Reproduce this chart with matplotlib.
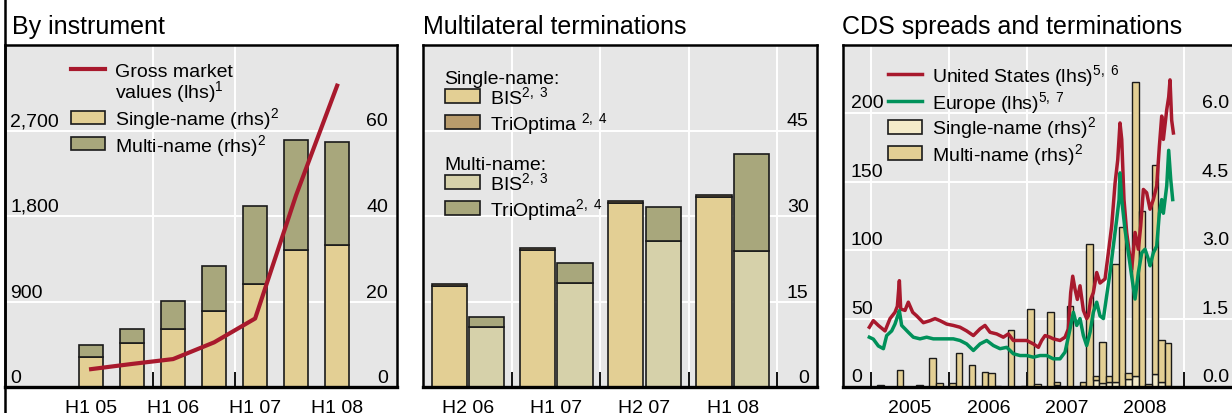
import numpy as np
import matplotlib
matplotlib.use("Agg")
import matplotlib.pyplot as plt
from matplotlib.patches import Rectangle
from matplotlib.lines import Line2D

plt.rcParams['font.family'] = ['Liberation Sans', 'DejaVu Sans']
plt.rcParams['mathtext.fontset'] = 'custom'
plt.rcParams['mathtext.rm'] = 'Liberation Sans'
plt.rcParams['mathtext.it'] = 'Liberation Sans:italic'
plt.rcParams['mathtext.bf'] = 'Liberation Sans:bold'

# ------------------------------- DATA ---------------------------------------
# Panel 1: by instrument (USD bn notional in rhs, gross market value lhs)
inst_periods = ['H1 05', 'H2 05', 'H1 06', 'H2 06', 'H1 07', 'H2 07', 'H1 08']
inst_single = [7.0, 10.2, 13.6, 17.7, 24.0, 32.1, 33.1]
inst_multi = [2.9, 3.4, 6.6, 10.7, 18.3, 25.7, 24.1]
gross_market = [188, 243, 294, 470, 721, 2020, 3172]

# Panel 2: multilateral terminations
term_periods = ['H2 06', 'H1 07', 'H2 07', 'H1 08']
single_bis = [17.8, 24.1, 32.2, 33.3]
single_trioptima = [0.2, 0.25, 0.4, 0.45]
multi_bis = [10.6, 18.2, 25.6, 23.9]
multi_trioptima = [1.7, 3.5, 6.0, 17.0]

# Panel 3: CDS spreads (lhs, bp) and monthly terminations (rhs)
us_years = [2004.983, 2005.034, 2005.098, 2005.183, 2005.247, 2005.310, 2005.340,
            2005.366, 2005.383, 2005.438, 2005.480, 2005.536, 2005.587, 2005.672,
            2005.757, 2005.821, 2005.884, 2005.969, 2006.054, 2006.139, 2006.224,
            2006.310, 2006.395, 2006.458, 2006.522, 2006.607, 2006.692, 2006.756,
            2006.820, 2006.905, 2006.990, 2007.075, 2007.139, 2007.181, 2007.224,
            2007.287, 2007.330, 2007.415, 2007.479, 2007.521, 2007.551, 2007.577,
            2007.606, 2007.636, 2007.670, 2007.713, 2007.755, 2007.776, 2007.806,
            2007.840, 2007.883, 2007.925, 2007.989, 2008.031, 2008.074, 2008.117,
            2008.151, 2008.180, 2008.202, 2008.231, 2008.265, 2008.299, 2008.329,
            2008.372, 2008.414, 2008.444, 2008.478, 2008.520, 2008.563, 2008.605,
            2008.648, 2008.682, 2008.712, 2008.733, 2008.776, 2008.801, 2008.818,
            2008.839, 2008.861]
us_cds = [43.7, 48.5, 45, 41, 50, 54.6, 59,
          77.7, 57, 56, 62, 54.6, 52, 47,
          48.5, 50, 48.5, 46, 45, 43.7, 41,
          37.6, 42.5, 45, 40, 38.8, 36.4, 38.8,
          34, 34, 34, 31.5, 29, 34, 37.6,
          36.4, 35.2, 34, 36.4, 42.5, 69, 81,
          71.6, 64, 74, 56, 50, 52, 64,
          69, 83.7, 76, 79, 98, 117.7, 149,
          166, 193, 181, 137, 113, 98, 86,
          113, 100.7, 117.7, 144.4, 142, 130, 137,
          147, 176, 198, 181, 202.7, 212, 224.5,
          195, 185.7]

eu_years = [2004.983, 2005.034, 2005.098, 2005.162, 2005.204, 2005.268, 2005.310,
            2005.353, 2005.366, 2005.395, 2005.438, 2005.480, 2005.544, 2005.629,
            2005.714, 2005.799, 2005.884, 2005.969, 2006.054, 2006.139, 2006.224,
            2006.310, 2006.395, 2006.480, 2006.565, 2006.650, 2006.735, 2006.820,
            2006.905, 2006.990, 2007.075, 2007.160, 2007.245, 2007.330, 2007.415,
            2007.479, 2007.543, 2007.585, 2007.628, 2007.670, 2007.713, 2007.755,
            2007.798, 2007.840, 2007.883, 2007.925, 2007.968, 2008.010, 2008.053,
            2008.095, 2008.138, 2008.168, 2008.180, 2008.202, 2008.244, 2008.287,
            2008.329, 2008.372, 2008.414, 2008.457, 2008.499, 2008.542, 2008.563,
            2008.605, 2008.648, 2008.682, 2008.712, 2008.733, 2008.776, 2008.801,
            2008.827, 2008.852]
eu_cds = [36.4, 35, 30, 28, 37.6, 41, 46,
          53.4, 55.8, 45, 42.5, 40, 36.4, 35.2,
          36.4, 35.2, 35.2, 35.2, 35.2, 34, 31.5,
          26.7, 31.5, 34, 30.3, 28, 29, 24.3,
          23, 23, 21.8, 23, 23, 20.6, 20.6,
          25.5, 42.5, 54.6, 45, 50, 37.6, 30.3,
          40, 54.6, 62, 52, 50, 66.7, 83.7,
          103, 122.6, 137, 156.5, 137, 115, 98,
          81, 64.3, 83.7, 98, 100.7, 93.4, 88.6,
          98, 103, 127, 137, 127, 147, 173,
          151.7, 137]

# monthly terminations, Jan 2005 .. Oct 2008 (USD trn)
month_start = 2005.0
cds_single = [0, 0, 0, 0, 0, 0, 0, 0, 0, 0, 0, 0,
              0, 0, 0, 0, 0, 0, 0, 0, 0, 0, 0, 0,
              0, 0, 0, 0, 0.05, 0, 0, 0, 0.03, 0, 0.16, 0.08,
              0.10, 0.12, 0, 0.18, 0.24, 0, 0.02, 0.28, 0.11, 0.03]
cds_multi = [0, 0.05, 0.01, 0, 0.38, 0, 0, 0.04, 0, 0.63, 0.08, 0,
             0.08, 0.74, 0.01, 0.48, 0.03, 0.32, 0.30, 0.02, 0, 1.24, 0.01, 0.03,
             1.71, 0.06, 0, 1.65, 0.06, 0, 1.78, 0, 0.07, 3.13, 0.08, 0.90,
             0.15, 2.57, 3.5, 0.13, 6.45, 3.87, 0.05, 4.58, 0.92, 0.93]

# ------------------------------- STYLE --------------------------------------
W, H = 1232, 414
FS = 14
BG = '#e6e6e6'
RED = '#a8192d'
GREEN = '#00915a'
TAN = '#e3cf94'
OLIVE = '#a8a77c'
PALE = '#d6d1aa'
BROWN = '#b99c6c'
CREAM = '#f4ebca'
EDGE = '#1a1a1a'

fig = plt.figure(figsize=(W / 100, H / 100), dpi=100)


def fx(x):
    return x / W


def fy(y):
    return 1 - y / H


def make_axes(x0, x1, y0=46, y1=388):
    ax = fig.add_axes([fx(x0), fy(y1), (x1 - x0) / W, (y1 - y0) / H])
    ax.set_facecolor(BG)
    for s in ax.spines.values():
        s.set_linewidth(1.8)
    ax.spines['bottom'].set_linewidth(2.4)
    ax.grid(True, color='white', lw=1.4)
    ax.set_axisbelow(True)
    ax.tick_params(axis='x', direction='in', length=11, width=1.3,
                   labelbottom=False, color='black')
    ax.tick_params(axis='y', length=0, labelleft=False, labelright=False)
    return ax


def ylabels(ax, vals, left, right, dxl, dxr, dy=5):
    tr = ax.get_yaxis_transform()
    for v, lt, rt in zip(vals, left, right):
        if lt:
            ax.annotate(lt, (0, v), xycoords=tr, xytext=(dxl, dy), textcoords='offset pixels',
                        ha='left', va='baseline', fontsize=FS, annotation_clip=False)
        ax.annotate(rt, (1, v), xycoords=tr, xytext=(-dxr, dy), textcoords='offset pixels',
                    ha='right', va='baseline', fontsize=FS, annotation_clip=False)


def xlabels(ax, pos, texts, dy=-25):
    tr = ax.get_xaxis_transform()
    for p, t in zip(pos, texts):
        ax.annotate(t, (p, 0), xycoords=tr, xytext=(0, dy), textcoords='offset pixels',
                    ha='center', va='baseline', fontsize=FS, annotation_clip=False)


def leg_line(x0, x1, y, color, lw):
    fig.add_artist(Line2D([fx(x0), fx(x1)], [fy(y), fy(y)], color=color, lw=lw))


def leg_patch(x0, yc, color, w=35, h=14):
    fig.add_artist(Rectangle((fx(x0), fy(yc + h / 2)), w / W, h / H,
                             facecolor=color, edgecolor=EDGE, lw=1.2))


def leg_text(x, y, s):
    fig.text(fx(x), fy(y), s, ha='left', va='baseline', fontsize=FS)


# ------------------------------- PANEL 1 ------------------------------------
ax1 = make_axes(5, 397)
x1 = np.arange(len(inst_periods))
ax1.bar(x1, inst_single, width=0.6, color=TAN, edgecolor=EDGE, lw=1.2)
ax1.bar(x1, inst_multi, width=0.6, bottom=inst_single, color=OLIVE, edgecolor=EDGE, lw=1.2)
ax1.set_xlim(-2.1, 7.46)
ax1.set_ylim(0, 80)
ax1.set_xticks([1.5, 3.5])
ax1.set_yticks([20, 40, 60])
ax1b = ax1.twinx()
ax1b.set_axis_off()
ax1b.plot(x1, gross_market, color=RED, lw=3.0)
ax1b.set_ylim(0, 3600)
ylabels(ax1, [0, 20, 40, 60], ['0', '900', '1,800', '2,700'], ['0', '20', '40', '60'], 5, 9)
xlabels(ax1, x1[::2], inst_periods[::2])

fig.text(fx(12), fy(34), 'By instrument', fontsize=18, ha='left', va='baseline')
fig.add_artist(Line2D([fx(5), fx(5)], [0, 1], color='black', lw=1.8))

leg_line(71, 105, 70, RED, 3.0)
leg_text(115, 77, 'Gross market')
leg_text(115, 98.5, 'values (lhs)$^1$')
leg_patch(71, 118.3, TAN, w=34, h=13)
leg_text(115, 125.3, 'Single-name (rhs)$^2$')
leg_patch(71, 144.7, OLIVE, w=34, h=13)
leg_text(115, 151.7, 'Multi-name (rhs)$^2$')

# ------------------------------- PANEL 2 ------------------------------------
ax2 = make_axes(423.3, 816.7)
x2 = np.arange(len(term_periods))
off, bw = 0.212, 0.4
ax2.bar(x2 - off, single_bis, width=bw, color=TAN, edgecolor=EDGE, lw=1.2)
ax2.bar(x2 - off, single_trioptima, width=bw, bottom=single_bis, color=BROWN,
        edgecolor=EDGE, lw=1.2)
ax2.bar(x2 + off, multi_bis, width=bw, color=PALE, edgecolor=EDGE, lw=1.2)
ax2.bar(x2 + off, multi_trioptima, width=bw, bottom=multi_bis, color=OLIVE,
        edgecolor=EDGE, lw=1.2)
ax2.set_xlim(-0.506, 3.95)
ax2.set_ylim(0, 60)
ax2.set_xticks([0.5, 1.5, 2.5, 3.5])
ax2.set_yticks([15, 30, 45])
ylabels(ax2, [0, 15, 30, 45], [None] * 4, ['0', '15', '30', '45'], 5, 8)
xlabels(ax2, x2, term_periods)

fig.text(fx(423), fy(34), 'Multilateral terminations', fontsize=18, ha='left', va='baseline')

leg_text(444, 83.7, 'Single-name:')
leg_patch(445, 97, TAN)
leg_text(490, 104, 'BIS$^{2,\\ 3}$')
leg_patch(445, 123.3, BROWN)
leg_text(490, 130.3, 'TriOptima $^{2,\\ 4}$')
leg_text(444, 169.7, 'Multi-name:')
leg_patch(445, 183, PALE)
leg_text(490, 190, 'BIS$^{2,\\ 3}$')
leg_patch(445, 209, OLIVE)
leg_text(490, 216, 'TriOptima$^{2,\\ 4}$')

# ------------------------------- PANEL 3 ------------------------------------
ax3 = make_axes(843, 1238)
mx = month_start + (np.arange(len(cds_multi)) + 0.5) / 12
ax3.bar(mx, cds_single, width=1 / 12, color=CREAM, edgecolor=EDGE, lw=1.0)
ax3.bar(mx, cds_multi, width=1 / 12, bottom=cds_single, color=TAN, edgecolor=EDGE, lw=1.0)
ax3.set_xlim(2004.647, 2009.685)
ax3.set_ylim(0, 7.5)
ax3.set_xticks([2005, 2006, 2007, 2008, 2009])
ax3.set_yticks([1.5, 3.0, 4.5, 6.0])
ax3b = ax3.twinx()
ax3b.set_axis_off()
ax3b.plot(us_years, us_cds, color=RED, lw=2.5)
ax3b.plot(eu_years, eu_cds, color=GREEN, lw=2.5)
ax3b.set_ylim(0, 250)
ylabels(ax3, [0, 1.5, 3.0, 4.5, 6.0], ['0', '50', '100', '150', '200'],
        ['0.0', '1.5', '3.0', '4.5', '6.0'], 8, 9, dy=6)
xlabels(ax3, [2005.5, 2006.5, 2007.5, 2008.5], ['2005', '2006', '2007', '2008'])

fig.text(fx(841.7), fy(34), 'CDS spreads and terminations', fontsize=18, ha='left', va='baseline')

leg_line(887.7, 921.7, 75, RED, 2.5)
leg_text(932, 82, 'United States (lhs)$^{5,\\ 6}$')
leg_line(887.7, 921.7, 101.7, GREEN, 2.5)
leg_text(932, 108.7, 'Europe (lhs)$^{5,\\ 7}$')
leg_patch(887.7, 127.5, CREAM, w=34)
leg_text(932, 134.5, 'Single-name (rhs)$^2$')
leg_patch(887.7, 154, TAN, w=34)
leg_text(932, 161, 'Multi-name (rhs)$^2$')

fig.savefig('out.png', dpi=100)
